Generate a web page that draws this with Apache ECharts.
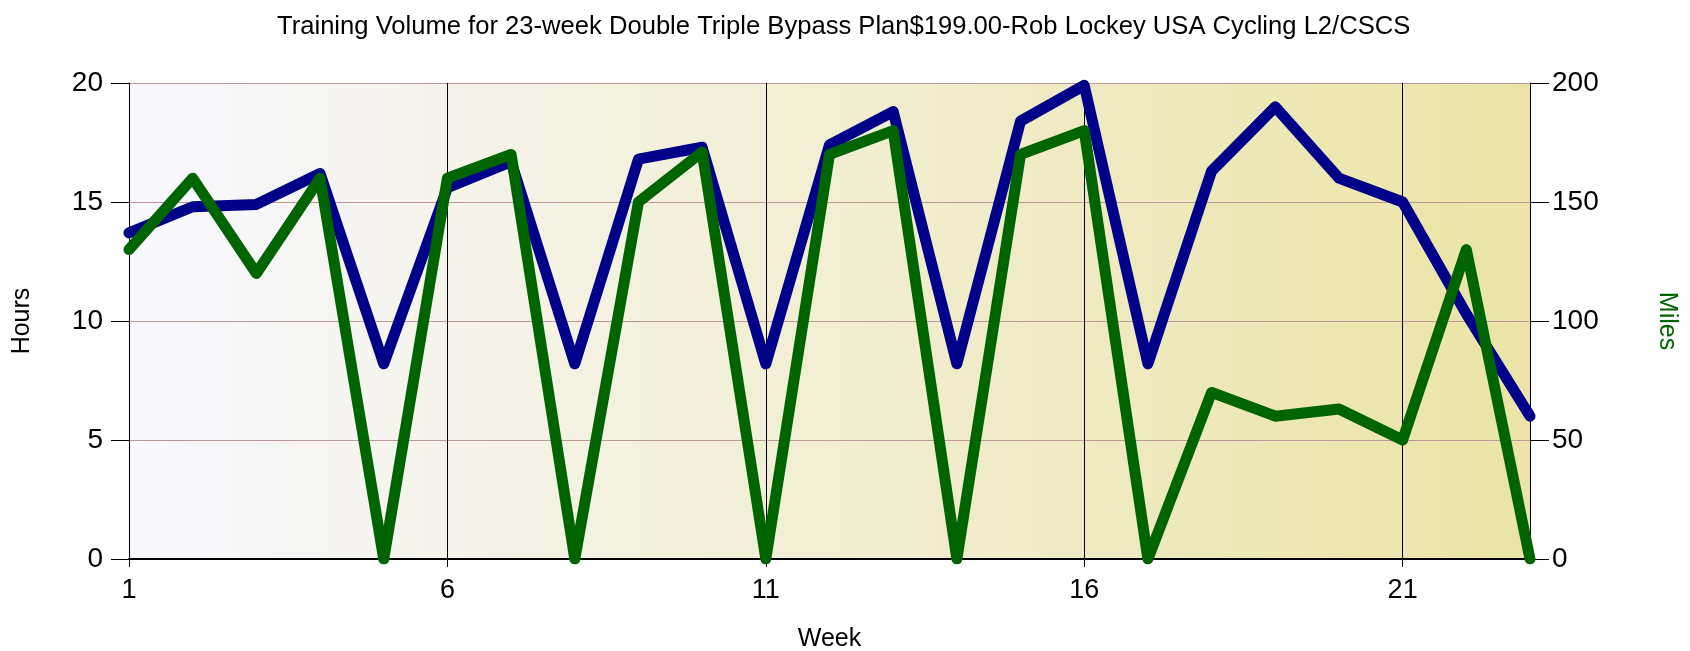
<!DOCTYPE html>
<html>
<head>
<meta charset="utf-8">
<script src="https://cdn.jsdelivr.net/npm/echarts@6/dist/echarts.min.js"></script>
<style>
html,body{margin:0;padding:0;background:#fff;}
#c{width:1690px;height:651px;}
</style>
</head>
<body>
<div id="c"></div>
<script>
const weeks = ['1','2','3','4','5','6','7','8','9','10','11','12','13','14','15','16','17','18','19','20','21','22','23'];
const hours = [13.7, 14.8, 14.9, 16.2, 8.2, 15.6, 16.7, 8.2, 16.8, 17.3, 8.2, 17.4, 18.8, 8.2, 18.4, 19.9, 8.2, 16.3, 19.0, 16.0, 15.0, 10.3, 6.0];
const miles = [130, 160, 120, 160, 0, 160, 170, 0, 150, 171, 0, 170, 180, 0, 170, 180, 0, 70, 60, 63, 50, 130, 0];
const titleText = 'Training Volume for 23-week Double Triple Bypass Plan$199.00-Rob Lockey USA Cycling L2/CSCS';

const FONT = '"Liberation Sans", Arial, sans-serif';
const chart = echarts.init(document.getElementById('c'), null, {renderer: 'canvas'});
chart.setOption({
  animation: false,
  backgroundColor: '#ffffff',
  title: {
    text: titleText,
    left: 272,
    top: 9,
    textStyle: {fontFamily: FONT, fontSize: 25.6, fontWeight: 'normal', color: '#000'}
  },
  grid: {
    left: 129, right: 160, top: 83, bottom: 92,
    containLabel: false,
    outerBoundsMode: 'none',
    show: true,
    borderWidth: 0,
    backgroundColor: new echarts.graphic.LinearGradient(0, 0, 1, 0, [
      {offset: 0, color: '#F8F8FF'},
      {offset: 1, color: '#EBE4A6'}
    ])
  },
  xAxis: {
    type: 'category',
    data: weeks,
    boundaryGap: false,
    name: 'Week',
    nameLocation: 'middle',
    nameGap: 68,
    nameTextStyle: {fontFamily: FONT, fontSize: 25, color: '#000'},
    axisLine: {show: true, lineStyle: {color: '#000', width: 2}},
    axisTick: {show: true, interval: 4, length: 8, lineStyle: {color: '#000', width: 1}},
    axisLabel: {interval: 4, margin: 18, fontFamily: FONT, fontSize: 27, color: '#000'},
    splitLine: {show: true, interval: 4, lineStyle: {color: '#000', width: 1}}
  },
  yAxis: [
    {
      type: 'value',
      min: 0, max: 20, interval: 5,
      position: 'left',
      name: 'Hours',
      nameLocation: 'middle',
      nameRotate: 90,
      nameGap: 94,
      nameTextStyle: {fontFamily: FONT, fontSize: 25, color: '#000'},
      axisLine: {show: true, lineStyle: {color: '#000', width: 1}},
      axisTick: {show: true, length: 18, lineStyle: {color: '#000', width: 1}},
      axisLabel: {margin: 26, fontFamily: FONT, fontSize: 28, color: '#000'},
      splitLine: {show: true, lineStyle: {color: '#BE9898', width: 1}}
    },
    {
      type: 'value',
      min: 0, max: 200, interval: 50,
      position: 'right',
      name: 'Miles',
      nameLocation: 'middle',
      nameRotate: -90,
      nameGap: 124,
      nameTextStyle: {fontFamily: FONT, fontSize: 25, color: '#006400'},
      axisLine: {show: true, lineStyle: {color: '#000', width: 1}},
      axisTick: {show: true, length: 19, lineStyle: {color: '#000', width: 1}},
      axisLabel: {margin: 22, fontFamily: FONT, fontSize: 28, color: '#000'},
      splitLine: {show: false}
    }
  ],
  series: [
    {
      name: 'Hours',
      type: 'line',
      yAxisIndex: 0,
      data: hours,
      showSymbol: false,
      symbol: 'none',
      lineStyle: {color: '#000088', width: 11, cap: 'round', join: 'round'},
      itemStyle: {color: '#000088'},
      z: 3
    },
    {
      name: 'Miles',
      type: 'line',
      yAxisIndex: 1,
      data: miles,
      showSymbol: false,
      symbol: 'none',
      lineStyle: {color: '#006400', width: 11, cap: 'round', join: 'round'},
      itemStyle: {color: '#006400'},
      z: 4
    }
  ]
});
</script>
</body>
</html>
